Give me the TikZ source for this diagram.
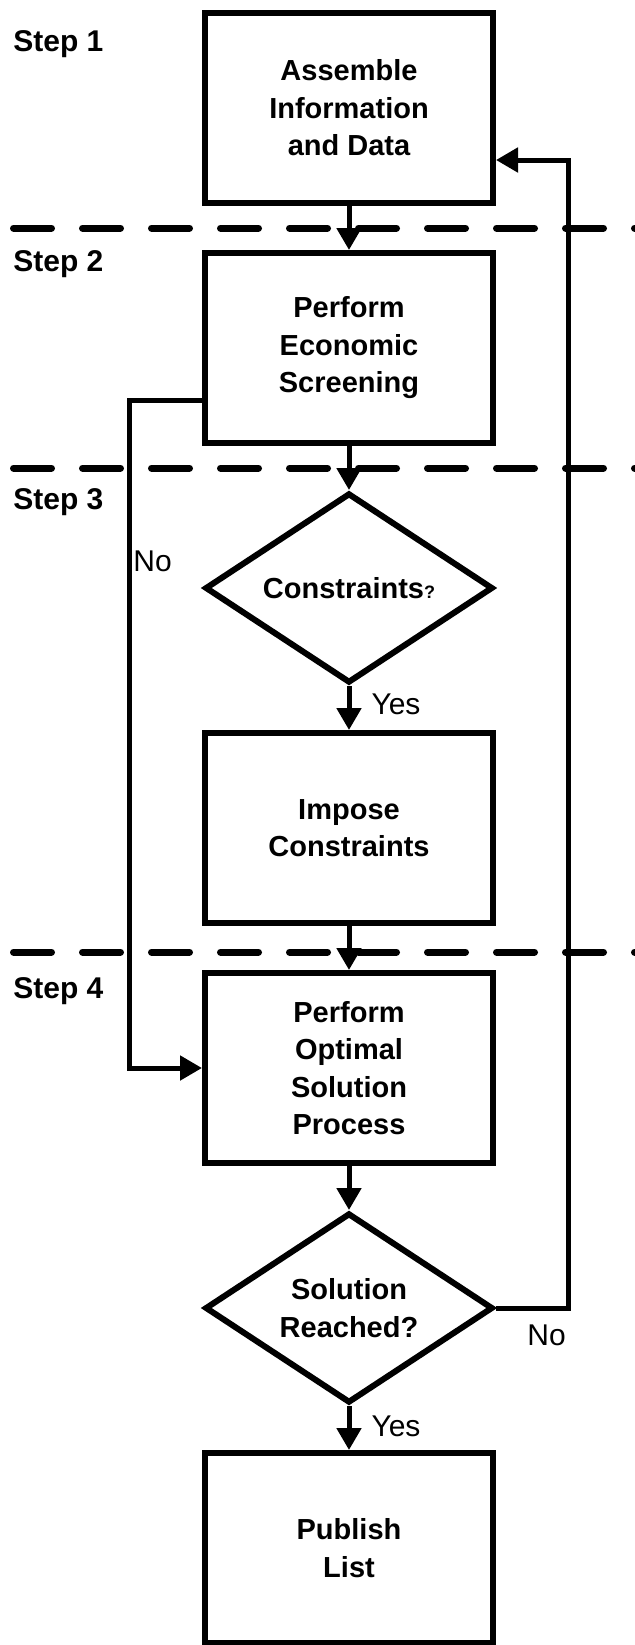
\documentclass[tikz,border=0pt]{standalone}
\usepackage{fontspec}
\setmainfont{Liberation Sans}
\usepackage{tikz}
\usetikzlibrary{shapes.geometric, arrows.meta}

\begin{document}
\begin{tikzpicture}[x=0.5pt, y=-0.5pt,
  box/.style={draw, line width=3pt, minimum width=144pt, minimum height=95pt,
    inner sep=0pt, align=center, font=\fontsize{14.5}{18.75}\selectfont\bfseries},
  choice/.style={draw, diamond, aspect=1.5, line width=3pt, minimum width=144pt,
    minimum height=95pt, inner sep=0pt, align=center,
    font=\fontsize{14.5}{18.75}\selectfont\bfseries},
  flow/.style={line width=2.5pt, -{Triangle[length=11pt, width=12pt]}},
  divider/.style={line width=3.5pt, line cap=round, dash pattern=on 19pt off 15.5pt},
  steplabel/.style={anchor=west, inner sep=0pt, font=\fontsize{15}{18}\selectfont\bfseries},
  answer/.style={inner sep=0pt, font=\fontsize{15}{18}\selectfont}]

\useasboundingbox (0,0) rectangle (635,1645);

% step separators
\draw[divider] (13.5,228) -- (650,228);
\draw[divider] (13.5,468) -- (650,468);
\draw[divider] (13.5,952) -- (650,952);

\node[steplabel] (step1) at (13,44) {Step 1};
\node[steplabel] (step2) at (13,264) {Step 2};
\node[steplabel] (step3) at (13,502) {Step 3};
\node[steplabel] (step4) at (13,991) {Step 4};

% main column
\node[box] (assemble) at (349,108) {Assemble\\Information\\and Data};
\node[box] (screen) at (349,348) {Perform\\Economic\\Screening};
\node[choice] (constr) at (349,588) {Constraints{\fontsize{9}{10}\selectfont ?}};
\node[box] (impose) at (349,828) {Impose\\Constraints};
\node[box] (optimal) at (349,1068) {Perform\\Optimal\\Solution\\Process};
\node[choice] (reached) at (349,1308) {Solution\\Reached?};
\node[box] (publish) at (349,1548) {Publish\\List};

\draw[flow] (assemble) -- (screen);
\draw[flow] (screen) -- (constr);
\draw[flow] (constr) -- node[answer, right=10pt, yshift=2pt] (yes1) {Yes} (impose);
\draw[flow] (impose) -- (optimal);
\draw[flow] (optimal) -- (reached);
\draw[flow] (reached) -- node[answer, right=10pt, yshift=1pt] (yes2) {Yes} (publish);

% skip branch (no constraints)
\draw[flow] ([yshift=-26pt]screen.west) -- ++(-73,0) |- (optimal.west);
\node[answer, anchor=west] (no1) at (133,561) {No};

% loop back
\draw[flow] (reached.east) -- ++(72,0) |- ([yshift=-26pt]assemble.east);
\node[answer, anchor=west] (no2) at (527,1335) {No};

\end{tikzpicture}
\end{document}
